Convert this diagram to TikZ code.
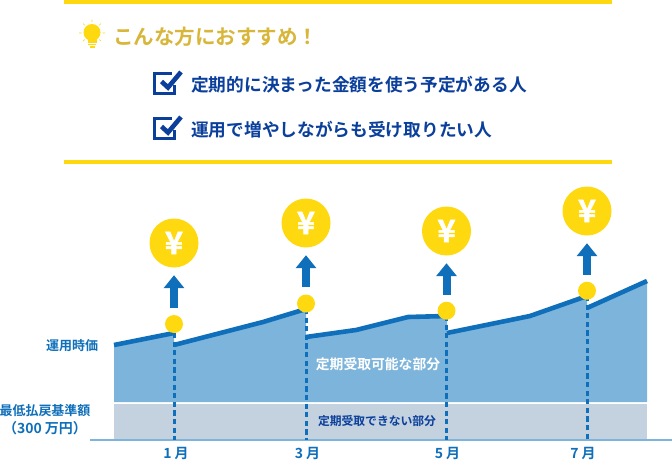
\documentclass[tikz,border=0pt]{standalone}
\usepackage{fontspec}
\usepackage{tikz}
\usetikzlibrary{arrows.meta}
\setmainfont{Noto Sans CJK JP}[BoldFont={Noto Sans CJK JP Bold}]
\newfontfamily\yenfont[FakeBold=1.6]{Noto Sans CJK JP Bold}
\definecolor{rulejaune}{HTML}{FFD90F}
\definecolor{titreor}{HTML}{D8B63A}
\definecolor{bleunuit}{HTML}{0B3F9C}
\definecolor{bleuligne}{HTML}{0F6FBA}
\definecolor{bleuaire}{HTML}{7DB4DB}
\definecolor{grisaire}{HTML}{C3D2DE}
\newcommand{\fs}[1]{\fontsize{#1}{#1}\selectfont\bfseries}

\begin{document}
\begin{tikzpicture}[x=1pt,y=-1pt,
    coin/.style={circle, fill=rulejaune, minimum size=49pt, inner sep=0pt, text=white, font=\fontsize{31}{31}\yenfont},
    dot/.style={circle, fill=rulejaune, minimum size=18pt, inner sep=0pt},
    moneyarrow/.style={line width=8pt, bleuligne, -{Triangle[length=13pt,width=20pt]}, shorten <=7pt, shorten >=7.5pt},
    dropline/.style={line width=3pt, bleuligne, dash pattern=on 5.2pt off 3.4pt},
    courbe/.style={line width=4.6pt, bleuligne},
    checkline/.style={line width=3.2pt, bleunuit},
    item/.style={anchor=west, inner sep=0pt, text=bleunuit, font=\fs{17.7}},
    legende/.style={inner sep=0pt, text=bleuligne, font=\fs{13}},
    mois/.style={inner sep=0pt, text=bleuligne, font=\fs{14}}]
  \useasboundingbox (0,0) rectangle (672,466);

     % Cadre du haut
  \fill[rulejaune] (64,0) rectangle (612,4);
  \fill[rulejaune] (64,160) rectangle (612,164);

     % Ampoule
  \fill[rulejaune] (92,32.5) circle (8.5);
  \fill[rulejaune] (87.5,38) rectangle (96.5,42.5);
  \fill[rulejaune] (88,43.5) rectangle (96,45);
  \fill[rulejaune] (89.5,46) rectangle (94.5,47.5);
  \draw[rulejaune, line width=0.6pt] (92,19.5) -- (92,22) (83,23.5) -- (84.8,25.3) (101,23.5) -- (99.2,25.3)
    (79,33) -- (81.5,33) (105,33) -- (102.5,33) (83,41) -- (84.8,39.5) (101,41) -- (99.2,39.5);
  \node[anchor=west, inner sep=0pt, text=titreor, font=\fs{20.5}] (titre) at (113,37) {こんな方におすすめ！};

     % Cases
  \draw[checkline] (172,73.2) -- (154.2,73.2) -- (154.2,93.5) -- (174.2,93.5) -- (174.2,85);
  \draw[line width=4.6pt, bleunuit] (161.5,81.5) -- (168,87.5) -- (181,72);
  \node[item] (texte1) at (191,84.5) {定期的に決まった金額を使う予定がある人};
  \draw[checkline] (172,118.2) -- (154.2,118.2) -- (154.2,138.5) -- (174.2,138.5) -- (174.2,130);
  \draw[line width=4.6pt, bleunuit] (161.5,126.5) -- (168,132.5) -- (181,117);
  \node[item] (texte2) at (191,130) {運用で増やしながらも受け取りたい人};

     % Aires
  \fill[bleuaire] (114,345) -- (174,333) -- (174,345) -- (263,322) -- (306,309) -- (306,337) -- (356,330)
    -- (408,317) -- (447,316) -- (447,333) -- (530,316) -- (587,296) -- (587,308) -- (647,281)
    -- (647,402) -- (114,402) -- cycle;
  \fill[grisaire] (114,404) rectangle (647,440);
  \draw[line width=2pt, bleuaire] (90,440) -- (672,440);

     % Courbe
  \draw[courbe] (114,345) -- (174,333);
  \draw[courbe] (174,345) -- (263,322) -- (306,309);
  \draw[courbe] (306,337) -- (356,330) -- (408,317) -- (447,316);
  \draw[courbe] (447,333) -- (530,316) -- (587,296);
  \draw[courbe] (587,308) -- (647,281);

     % Pieces et points
  \node[coin] (coin1) at (174,243) {¥};
  \node[coin] (coin2) at (306,223) {¥};
  \node[coin] (coin3) at (446.5,231) {¥};
  \node[coin] (coin4) at (587,211) {¥};
  \coordinate (base1) at (174,440);
  \coordinate (base2) at (306,440);
  \coordinate (base3) at (446.5,440);
  \coordinate (base4) at (587,440);
  \draw[dropline] (174,333) -- (base1);
  \draw[dropline] (306,309) -- (base2);
  \draw[dropline] (446.5,316) -- (base3);
  \draw[dropline] (587,296) -- (base4);
  \node[dot] (dot1) at (174,324) {};
  \node[dot] (dot2) at (306,303.5) {};
  \node[dot] (dot3) at (446.5,310.7) {};
  \node[dot] (dot4) at (587,290.7) {};

     % Fleches
  \draw[moneyarrow] (dot1) -- (coin1);
  \draw[moneyarrow] (dot2) -- (coin2);
  \draw[moneyarrow] (dot3) -- (coin3);
  \draw[moneyarrow] (dot4) -- (coin4);

     % Legendes
  \node[legende] (L1) at (72,346) {運用時価};
  \node[legende] (L2) at (45,411) {最低払戻基準額};
  \node[inner sep=0pt, text=bleuligne, font=\fs{14}] (L3) at (45,428) {（300 万円）};
  \node[inner sep=0pt, text=white, font=\fs{13.8}] (A1) at (378,364) {定期受取可能な部分};
  \node[inner sep=0pt, text=bleunuit, font=\fs{11.8}] (A2) at (377,421) {定期受取できない部分};
  \node[mois] (M1) at (176,454) {1 月};
  \node[mois] (M2) at (307.5,454) {3 月};
  \node[mois] (M3) at (447.5,454) {5 月};
  \node[mois] (M4) at (583,454) {7 月};
\end{tikzpicture}
\end{document}
